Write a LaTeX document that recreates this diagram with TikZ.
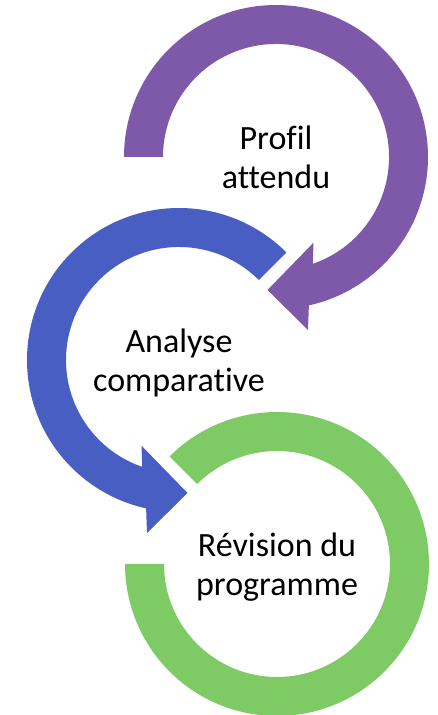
\documentclass[tikz,border=0pt]{standalone}
\usepackage{fontspec}
\setmainfont{Carlito}[Ligatures={NoCommon}]
\usepackage{tikz}
\usetikzlibrary{calc}
\definecolor{cycpurple}{RGB}{127,89,169}
\definecolor{cycblue}{RGB}{72,94,194}
\definecolor{cycgreen}{RGB}{126,203,102}
\tikzset{
    mylabel/.style={align=center, inner sep=0pt, text depth=0pt, text=black, font=\fontsize{25.5}{29.25}\selectfont},
    myring/.style={draw=none}
}

\begin{document}
\begin{tikzpicture}[x=0.75pt, y=0.75pt]
    \useasboundingbox (0,0) rectangle (437,715);
    \coordinate (profil) at (276,558);
    \coordinate (analyse) at (179,355);
    \coordinate (revision) at (277,151);

    % purple ring with arrow head
    \fill[myring, cycpurple] ($(profil)+(180:152)$) arc[start angle=180, end angle=-77.5, radius=152]
      -- ($(profil)+(32,-173)$) -- ($(profil)+(-8.5,-133)$) -- ($(profil)+(37.5,-85.7)$)
      -- ($(profil)+(-71:113)$) arc[start angle=-71, end angle=180, radius=113] -- cycle;
    % blue ring with arrow head
    \fill[myring, cycblue] ($(analyse)+(45:152)$) arc[start angle=45, end angle=257.5, radius=152]
      -- ($(analyse)+(-32,-173)$) -- ($(analyse)+(8.5,-133)$) -- ($(analyse)+(-37.5,-85.7)$)
      -- ($(analyse)+(251:113)$) arc[start angle=251, end angle=45, radius=113] -- cycle;
    % green ring
    \fill[myring, cycgreen] ($(revision)+(135:152)$) arc[start angle=135, end angle=-180, radius=152]
      -- ($(revision)+(180:113)$) arc[start angle=-180, end angle=135, radius=113] -- cycle;

    \node[mylabel] (profiltext) at (profil) {Profil\\attendu};
    \node[mylabel] (analysetext) at (analyse) {Analyse\\comparative};
    \node[mylabel] (revisiontext) at (revision) {Révision du\\programme};
\end{tikzpicture}
\end{document}
